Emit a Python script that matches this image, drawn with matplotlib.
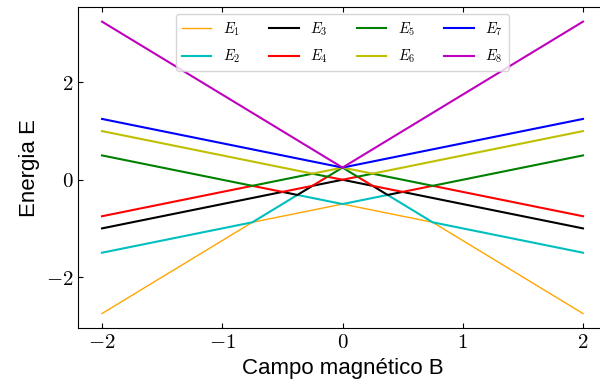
import numpy as np
import matplotlib
matplotlib.use("Agg")
import matplotlib.pyplot as plt
from matplotlib.ticker import FuncFormatter

plt.rcParams.update({"mathtext.fontset": "cm", "font.family": "Liberation Sans"})

# breakpoints of the (sorted) energy levels vs field
B = [-2, -0.75, -0.5, -0.375, -0.25, -0.125, 0, 0.125, 0.25, 0.375, 0.5, 0.75, 2]
E1 = [-2.75, -0.875, -0.75, -0.6875, -0.625, -0.5625, -0.5, -0.5625, -0.625, -0.6875, -0.75, -0.875, -2.75]
E2 = [-1.5, -0.875, -0.5, -0.3125, -0.375, -0.4375, -0.5, -0.4375, -0.375, -0.3125, -0.5, -0.875, -1.5]
E3 = [-1, -0.375, -0.25, -0.3125, -0.125, -0.0625, 0, -0.0625, -0.125, -0.3125, -0.25, -0.375, -1]
E4 = [-0.75, -0.125, -0.25, -0.1875, -0.125, 0.0625, 0, 0.0625, -0.125, -0.1875, -0.25, -0.125, -0.75]
E5 = [0.5, -0.125, 0, 0.0625, 0.125, 0.0625, 0.25, 0.0625, 0.125, 0.0625, 0, -0.125, 0.5]
E6 = [1, 0.375, 0.25, 0.1875, 0.125, 0.1875, 0.25, 0.1875, 0.125, 0.1875, 0.25, 0.375, 1]
E7 = [1.25, 0.625, 0.5, 0.4375, 0.375, 0.3125, 0.25, 0.3125, 0.375, 0.4375, 0.5, 0.625, 1.25]
E8 = [3.25, 1.375, 1, 0.8125, 0.625, 0.4375, 0.25, 0.4375, 0.625, 0.8125, 1, 1.375, 3.25]
levels = [E1, E2, E3, E4, E5, E6, E7, E8]
colors = ["orange", "c", "k", "r", "g", "y", "b", "m"]

fig = plt.figure(figsize=(6, 3.92), dpi=100)
# right spine sits just outside the canvas, as in the cropped original
ax = fig.add_axes([0.13, 0.163, 0.8817, 0.819])
for i, (E, col) in enumerate(zip(levels, colors)):
    ax.plot(B, E, color=col, lw=1.0 if i == 0 else 1.5, label=rf"$E_{i+1}$")

ax.tick_params(direction="in", top=True, right=True, labelsize=15)
ax.set_xticks([-2, -1, 0, 1, 2]); ax.set_yticks([-2, 0, 2])
fmt = FuncFormatter(lambda v, _: rf"${v:g}$")
ax.xaxis.set_major_formatter(fmt); ax.yaxis.set_major_formatter(fmt)
ax.set_xlabel("Campo magnético B", fontsize=16)
ax.set_ylabel("Energia E", fontsize=16)
ax.legend(loc="upper center", ncol=4, fontsize=10.5, labelspacing=0.7)

fig.savefig("out.png", dpi=100)
